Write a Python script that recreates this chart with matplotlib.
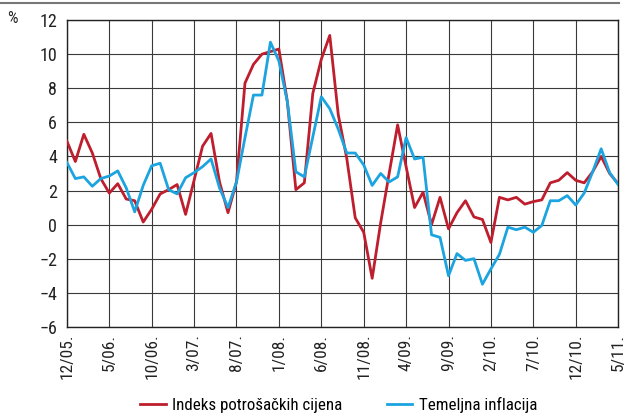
import matplotlib.pyplot as plt
from matplotlib.lines import Line2D
from matplotlib import font_manager
import numpy as np

# narrow face if there is one
names = {f.name for f in font_manager.fontManager.ttflist}
fams = [f for f in ['Liberation Sans Narrow', 'DejaVu Sans Condensed', 'Roboto Condensed', 'Roboto']
        if f in names]
plt.rcParams['font.family'] = fams + ['DejaVu Sans']

# monthly, 12/2005 .. 5/2011
cpi = [4.9, 3.7, 5.3, 4.2, 2.7, 1.85, 2.4, 1.5, 1.4, 0.15,
       0.9, 1.8, 2.05, 2.35, 0.6, 2.6, 4.6, 5.35, 2.5, 0.7,
       2.5, 8.3, 9.4, 10.0, 10.15, 10.3, 7.2, 2.05, 2.45, 7.7,
       9.7, 11.1, 6.45, 3.9, 0.4, -0.45, -3.15, 0.1, 3.0, 5.85,
       3.4, 1.0, 1.9, 0.0, 1.6, -0.25, 0.7, 1.4, 0.45, 0.3,
       -1.05, 1.6, 1.45, 1.6, 1.2, 1.35, 1.45, 2.45, 2.6, 3.05,
       2.6, 2.45, 3.1, 4.0, 3.0, 2.4]
core = [3.65, 2.7, 2.8, 2.25, 2.7, 2.85, 3.15, 2.15, 0.75, 2.3,
        3.45, 3.6, 2.05, 1.8, 2.75, 3.05, 3.4, 3.85, 2.15, 1.0,
        2.5, 5.1, 7.6, 7.6, 10.7, 9.6, 7.2, 3.1, 2.8, 5.15,
        7.5, 6.8, 5.6, 4.2, 4.2, 3.5, 2.3, 3.0, 2.5, 2.8,
        5.1, 3.85, 3.95, -0.6, -0.75, -3.0, -1.7, -2.1, -2.0, -3.5,
        -2.6, -1.75, -0.15, -0.3, -0.15, -0.45, -0.05, 1.4, 1.4, 1.7,
        1.15, 1.85, 3.1, 4.45, 3.05, 2.35]
tick_labels = ['12/05.', '5/06.', '10/06.', '3/07.', '8/07.', '1/08.', '6/08.',
               '11/08.', '4/09.', '9/09.', '2/10.', '7/10.', '12/10.', '5/11.']
yticks = [-6, -4, -2, 0, 2, 4, 6, 8, 10, 12]

red = '#be1e2d'
blue = '#1ba4df'

fig = plt.figure(figsize=(6.25, 4.18), dpi=100)
ax = fig.add_axes([0.107, 0.218, 0.882, 0.734])

x = np.arange(len(cpi))
ax.plot(x, cpi, color=red, lw=2.0, label='Indeks potrošačkih cijena', zorder=3)
ax.plot(x, core, color=blue, lw=2.0, label='Temeljna inflacija', zorder=3)

ax.set_xlim(0, len(cpi) - 1)
ax.set_ylim(-6, 12)
ax.set_xticks(np.arange(0, len(cpi), 5))
ax.set_xticklabels(tick_labels, rotation=90, fontsize=12.5)
ax.set_yticks(yticks)
ax.set_yticklabels([str(v).replace('-', '\u2212') for v in yticks], fontsize=13)
ax.tick_params(axis='y', length=0, pad=7, colors='#222222')
ax.tick_params(axis='x', length=0, pad=5, colors='#222222')
ax.grid(True, color='#3a3a3a', lw=0.8)
ax.set_axisbelow(True)
for s in ax.spines.values():
    s.set_color('#222222')
    s.set_linewidth(1.0)

fig.text(0.012, 0.955, '%', fontsize=12, va='center', color='#222222')
fig.add_artist(Line2D([0, 0.99], [0.994, 0.994], color='#777777', lw=1.5))

fig.legend(loc='center', bbox_to_anchor=(0.542, 0.031), ncol=2,
           frameon=False, fontsize=12.2, handlelength=1.5, columnspacing=2.6,
           handletextpad=0.4, borderpad=0, borderaxespad=0)

fig.savefig('out.png', dpi=100)
